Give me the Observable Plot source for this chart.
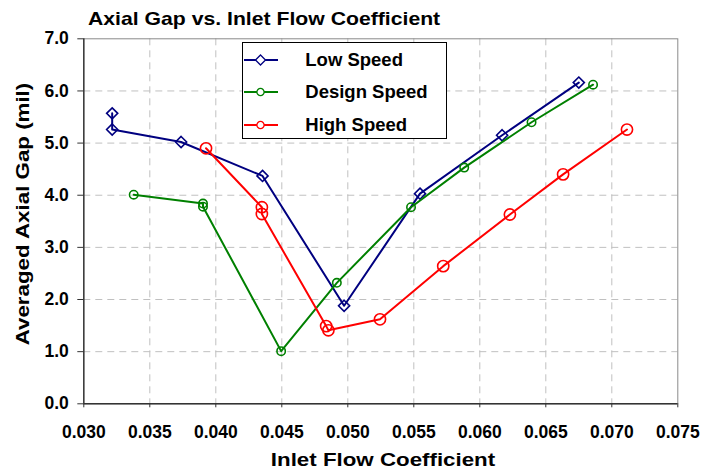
<!DOCTYPE html>
<html><head><meta charset="utf-8">
<script src="https://cdn.jsdelivr.net/npm/d3@7"></script>
<script src="https://cdn.jsdelivr.net/npm/@observablehq/plot@0.6"></script>
<style>
body{margin:0;background:#fff;}
#wrap{position:relative;width:717px;height:471px;overflow:hidden;font-family:"Liberation Sans",Arial,sans-serif;font-weight:bold;color:#000;}
#wrap svg{position:absolute;left:0;top:0;}
.ttl{position:absolute;white-space:nowrap;font-size:18.6px;line-height:18.6px;}
#title{left:87.7px;top:10.3px;transform-origin:0 0;transform:scaleX(1.14);}
#xtitle{left:383.3px;top:451px;transform:translateX(-50%) scaleX(1.2);}
#ytitle{left:22.7px;top:214.2px;transform:translate(-50%,-50%) rotate(-90deg) scaleX(1.2);}
#legend{position:absolute;left:242.3px;top:41.7px;width:204.4px;height:97.3px;border:1px solid #000;background:#fff;box-sizing:border-box;}
.lrow{position:absolute;left:0;height:20px;font-size:18.5px;line-height:20px;}
.lrow svg{position:absolute;left:22px;top:0;}
.lrow span{position:absolute;left:62px;top:0;white-space:nowrap;}
</style></head><body><div id="wrap"></div><script>
// Data
const seriesNames = ["Low Speed", "Design Speed", "High Speed"];
const seriesColors = ["#000080", "#008000", "#ff0000"];

const lowX = [0.03215, 0.03215, 0.03737, 0.04354, 0.04972, 0.05547, 0.06169, 0.06750];
const lowY = [5.57, 5.26, 5.02, 4.37, 1.88, 4.03, 5.15, 6.16];

const designX = [0.03378, 0.03903, 0.03903, 0.04495, 0.04917, 0.05479, 0.05882, 0.06392, 0.06858];
const designY = [4.01, 3.84, 3.78, 1.01, 2.32, 3.77, 4.53, 5.40, 6.12];

const highX = [0.03926, 0.04349, 0.04349, 0.04836, 0.04853, 0.05244, 0.05723, 0.06228, 0.06631, 0.07115];
const highY = [4.90, 3.77, 3.64, 1.49, 1.41, 1.62, 2.64, 3.63, 4.40, 5.26];

const xTicks = [0.030, 0.035, 0.040, 0.045, 0.050, 0.055, 0.060, 0.065, 0.070, 0.075];
const yTicks = [0, 1, 2, 3, 4, 5, 6, 7];

const titleText = "Axial Gap vs. Inlet Flow Coefficient";
const xLabel = "Inlet Flow Coefficient";
const yLabel = "Averaged Axial Gap (mil)";

const symbols = ["diamond2", "circle", "circle"];
const radii = [5, 4.2, 5.6];

const series = [
  {x: lowX, y: lowY},
  {x: designX, y: designY},
  {x: highX, y: highY}
].map((s, k) => ({
  name: seriesNames[k], color: seriesColors[k], symbol: symbols[k], r: radii[k],
  data: s.x.map((x, i) => ({x, y: s.y[i]}))
}));

const font = '"Liberation Sans", Arial, sans-serif';

const chart = Plot.plot({
  width: 717, height: 471,
  marginLeft: 83.3, marginRight: 39.7, marginTop: 38.3, marginBottom: 67.7,
  x: {domain: [0.030, 0.075]},
  y: {domain: [0, 7]},
  style: {fontFamily: font, fontSize: "17.5px", fontWeight: "bold", color: "#000", background: "transparent", overflow: "visible"},
  marks: [
    Plot.gridX(xTicks.slice(1, -1), {stroke: "#c0c0c0", strokeOpacity: 1, strokeDasharray: "7,5"}),
    Plot.gridY(yTicks.slice(1, -1), {stroke: "#c0c0c0", strokeOpacity: 1, strokeDasharray: "7,5"}),
    Plot.frame({stroke: "#8a8a8a"}),
    Plot.ruleX([xTicks[0]], {stroke: "#333", strokeWidth: 1.4}),
    Plot.ruleY([yTicks[0]], {stroke: "#333", strokeWidth: 1.4}),
    Plot.axisX({ticks: xTicks, tickFormat: d3.format(".3f"), tickSize: 4, tickPadding: 18, label: null, stroke: "#333"}),
    Plot.axisY({ticks: yTicks, tickFormat: d3.format(".1f"), tickSize: 6, tickPadding: 9, label: null, stroke: "#333"}),
    ...series.flatMap(s => [
      Plot.line(s.data, {x: "x", y: "y", stroke: s.color, strokeWidth: 2}),
      Plot.dot(s.data, {x: "x", y: "y", stroke: s.color, symbol: s.symbol, r: s.r, strokeWidth: 1.6, fill: "none"})
    ])
  ]
});

const wrap = document.getElementById("wrap");
wrap.appendChild(chart);

function addDiv(id, cls, text) {
  const d = document.createElement("div");
  d.id = id; d.className = cls; d.textContent = text;
  wrap.appendChild(d);
  return d;
}
addDiv("title", "ttl", titleText);
addDiv("xtitle", "ttl", xLabel);
addDiv("ytitle", "ttl", yLabel);

const legend = document.createElement("div");
legend.id = "legend";
const rowTops = [7.5, 39.5, 72.5];
series.forEach((s, k) => {
  const row = document.createElement("div");
  row.className = "lrow";
  row.style.top = rowTops[k] + "px";
  const ns = "http://www.w3.org/2000/svg";
  const sv = document.createElementNS(ns, "svg");
  sv.setAttribute("width", 36); sv.setAttribute("height", 20);
  const ln = document.createElementNS(ns, "line");
  ln.setAttribute("x1", 1); ln.setAttribute("x2", 35); ln.setAttribute("y1", 10); ln.setAttribute("y2", 10);
  ln.setAttribute("stroke", s.color); ln.setAttribute("stroke-width", 2);
  sv.appendChild(ln);
  const mk = document.createElementNS(ns, "path");
  const sym = s.symbol === "diamond2" ? d3.symbolDiamond2 : d3.symbolCircle;
  const rr = s.symbol === "diamond2" ? 4.5 : 3.6;
  mk.setAttribute("d", d3.symbol(sym, Math.PI * rr * rr)());
  mk.setAttribute("transform", "translate(17.5,10)");
  mk.setAttribute("fill", "#fff"); mk.setAttribute("stroke", s.color); mk.setAttribute("stroke-width", 1.3);
  sv.appendChild(mk);
  row.appendChild(sv);
  const sp = document.createElement("span");
  sp.textContent = s.name;
  row.appendChild(sp);
  legend.appendChild(row);
});
wrap.appendChild(legend);
</script></body></html>
